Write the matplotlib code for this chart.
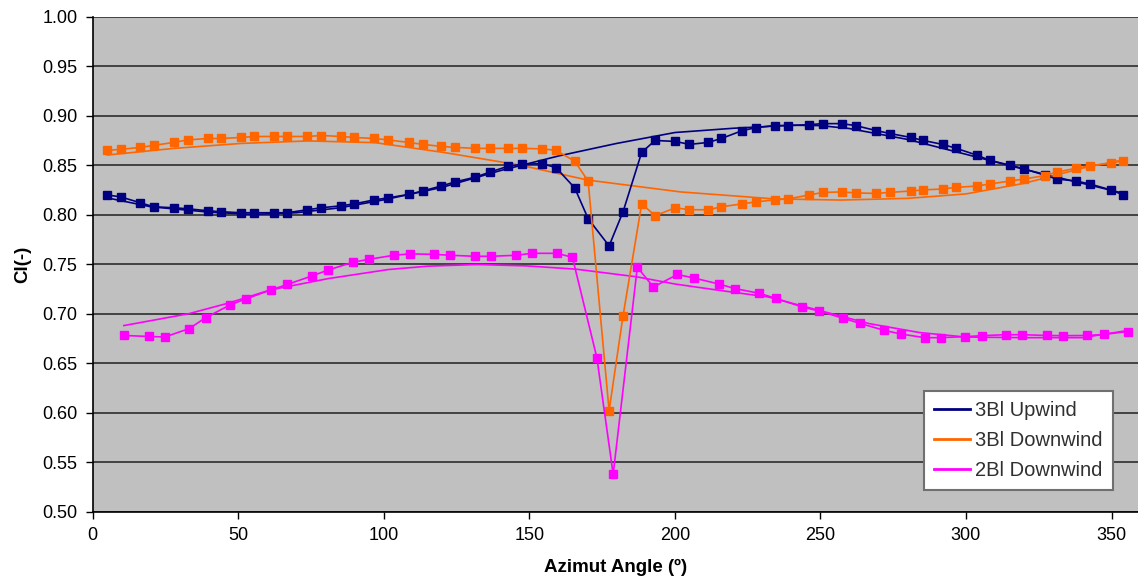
import matplotlib
matplotlib.use('Agg')
import matplotlib.pyplot as plt
from matplotlib.lines import Line2D
import numpy as np

# azimuth angles of the 3-blade samples (same for upwind and downwind)
ang3 = [4.8, 9.6, 16.4, 20.9, 27.8, 32.6, 39.5, 44.1, 50.9, 55.5, 62.3, 66.9, 73.7, 78.5,
        85.4, 89.9, 96.8, 101.5, 108.6, 113.4, 119.7, 124.4, 131.5, 136.4, 142.8, 147.4,
        154.5, 159.2, 165.6, 170.2, 177.4, 182.2, 188.6, 193.2, 200.2, 205, 211.4, 216,
        223.2, 228, 234.3, 239, 246.2, 250.9, 257.3, 262.1, 269.1, 273.9, 281.1, 285.3,
        292, 296.7, 303.9, 308.1, 315.1, 319.8, 327, 331.2, 337.9, 342.6, 349.8, 354]
up3 = [0.820, 0.818, 0.812, 0.808, 0.807, 0.806, 0.804, 0.803, 0.802, 0.802, 0.802, 0.802,
       0.805, 0.807, 0.809, 0.811, 0.815, 0.817, 0.8205, 0.824, 0.829, 0.833, 0.838, 0.843,
       0.849, 0.851, 0.8515, 0.8475, 0.827, 0.796, 0.7685, 0.803, 0.863, 0.875, 0.874, 0.871,
       0.873, 0.877, 0.885, 0.888, 0.890, 0.890, 0.891, 0.892, 0.892, 0.890, 0.885, 0.882,
       0.878, 0.875, 0.871, 0.867, 0.860, 0.855, 0.850, 0.8465, 0.840, 0.836, 0.834, 0.831,
       0.825, 0.820]
down3 = [0.865, 0.866, 0.868, 0.870, 0.873, 0.8755, 0.877, 0.877, 0.878, 0.879, 0.879, 0.879,
         0.879, 0.880, 0.879, 0.878, 0.877, 0.8755, 0.873, 0.871, 0.869, 0.868, 0.867, 0.867,
         0.867, 0.867, 0.8665, 0.865, 0.854, 0.834, 0.602, 0.698, 0.811, 0.799, 0.807, 0.805,
         0.805, 0.808, 0.811, 0.813, 0.815, 0.816, 0.820, 0.8225, 0.823, 0.822, 0.8215, 0.8225,
         0.824, 0.825, 0.826, 0.8276, 0.829, 0.831, 0.834, 0.836, 0.8394, 0.843, 0.847, 0.8495,
         0.852, 0.8546]

# 2-blade downwind
ang2 = [10.7, 19.3, 24.8, 33.2, 38.8, 47.3, 52.7, 61.2, 66.8, 75.2, 80.8, 89.4, 95, 103.4,
        108.9, 117.2, 122.8, 131.3, 137, 145.3, 150.9, 159.4, 164.8, 173.2, 178.8, 187.1,
        192.6, 200.9, 206.6, 215.1, 220.6, 229, 234.6, 243.8, 249.5, 257.9, 263.5, 271.9,
        277.6, 285.8, 291.3, 299.6, 305.4, 313.7, 319.3, 327.7, 333.3, 341.7, 347.3, 355.5]
down2 = [0.678, 0.677, 0.6765, 0.685, 0.696, 0.709, 0.715, 0.724, 0.7295, 0.738, 0.744, 0.752,
         0.755, 0.759, 0.7604, 0.760, 0.759, 0.758, 0.758, 0.759, 0.761, 0.761, 0.757, 0.6556,
         0.5378, 0.747, 0.727, 0.7396, 0.736, 0.730, 0.7254, 0.7206, 0.7156, 0.7068, 0.7027,
         0.6953, 0.6903, 0.6832, 0.6795, 0.6758, 0.6758, 0.6768, 0.6778, 0.6788, 0.6788,
         0.678, 0.6778, 0.678, 0.679, 0.682]

# trend lines
tr_up_x = [5, 20, 40, 55, 70, 85, 100, 120, 140, 160, 180, 200, 220, 240, 250, 260, 280, 300,
           320, 340, 355]
tr_up_y = [0.817, 0.808, 0.8026, 0.8003, 0.802, 0.807, 0.815, 0.8276, 0.8445, 0.8593, 0.872,
           0.883, 0.8873, 0.8904, 0.890, 0.887, 0.876, 0.861, 0.8458, 0.8317, 0.821]
tr_dn3_x = [5, 28, 51, 74, 97, 121, 147, 170, 202, 234, 257, 280, 300, 320, 340, 355]
tr_dn3_y = [0.8603, 0.867, 0.872, 0.8745, 0.8728, 0.8627, 0.850, 0.835, 0.823, 0.816, 0.8148,
            0.8165, 0.821, 0.8317, 0.847, 0.856]
tr_dn2_x = [10.7, 33, 47, 61, 81, 101.5, 115, 132, 149, 166, 187, 200, 215, 232, 249.5, 266.7,
            284, 300, 320, 340, 355.5]
tr_dn2_y = [0.688, 0.700, 0.711, 0.724, 0.7355, 0.7446, 0.748, 0.7497, 0.7483, 0.745, 0.7372,
            0.730, 0.7237, 0.7169, 0.7034, 0.690, 0.681, 0.6764, 0.6758, 0.6758, 0.683]

labels = ['3Bl Upwind', '3Bl Downwind', '2Bl Downwind']
colors = ['#000080', '#FF6600', '#FF00FF']

plt.rcParams['font.family'] = ['Liberation Sans', 'DejaVu Sans']

fig = plt.figure(figsize=(11.38, 5.79), dpi=100)
ax = fig.add_axes([92.7 / 1138, 1 - 511.7 / 579, 1 - 92.7 / 1138, (511.7 - 16.7) / 579])
ax.set_facecolor('#C0C0C0')

series = [(ang3, up3, tr_up_x, tr_up_y), (ang3, down3, tr_dn3_x, tr_dn3_y),
          (ang2, down2, tr_dn2_x, tr_dn2_y)]
for (x, y, tx, ty), c in zip(series, colors):
    ax.plot(tx, ty, color=c, lw=1.2, zorder=3)
    ax.plot(x, y, color=c, lw=1.2, marker='s', ms=6, mec=c, mfc=c, zorder=4)

ax.set_xlim(0, 359.1)
ax.set_ylim(0.5, 1.0)
ax.set_xticks(np.arange(0, 351, 50))
ax.set_yticks(np.arange(0.5, 1.001, 0.05))
ax.yaxis.set_major_formatter(matplotlib.ticker.FormatStrFormatter('%.2f'))
ax.grid(axis='y', color='#202020', lw=1.1)
ax.set_axisbelow(True)
for s in ['top', 'right']:
    ax.spines[s].set_visible(False)
ax.spines['left'].set_linewidth(1.2)
ax.spines['bottom'].set_linewidth(1.2)
ax.tick_params(direction='out', length=5, width=1, labelsize=13, colors='black', pad=6)

ax.set_xlabel('Azimut Angle (º)', fontsize=13.5, fontweight='bold', labelpad=11)
ax.set_ylabel('Cl(-)', fontsize=13.5, fontweight='bold', labelpad=8)

handles = [Line2D([0], [0], color=c, lw=2) for c in colors]
leg = ax.legend(handles, labels, loc='lower right', bbox_to_anchor=(0.976, 0.044),
                borderaxespad=0, fontsize=14.5, frameon=True, fancybox=False, framealpha=1,
                handlelength=1.8, handletextpad=0.25, labelspacing=0.55, borderpad=0.5)
leg.get_frame().set_edgecolor('#707070')
leg.get_frame().set_facecolor('white')
leg.get_frame().set_linewidth(1.5)
for t in leg.get_texts():
    t.set_color('#303030')

fig.savefig('out.png', dpi=100)
